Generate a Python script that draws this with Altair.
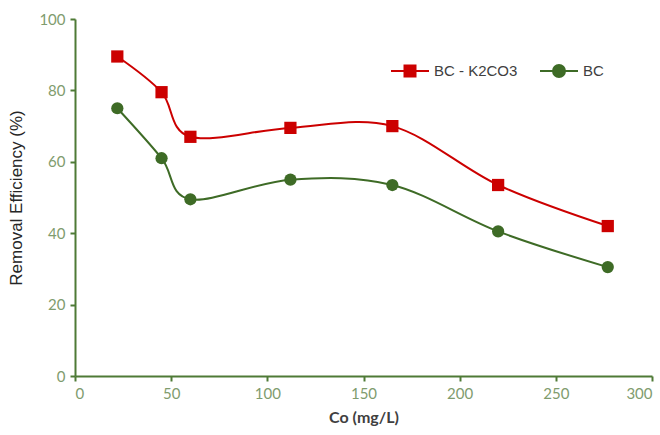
import altair as alt
import pandas as pd

# Initial cobalt concentration (mg/L) and removal efficiency (%) for each sorbent
co = [22, 45, 60, 112, 165, 220, 277]
bc_k2co3 = [89.5, 79.5, 67.0, 69.5, 70.0, 53.5, 42.0]
bc = [75.0, 61.0, 49.5, 55.0, 53.5, 40.5, 30.5]

series_names = ["BC - K2CO3", "BC"]
series_colors = ["#CC0000", "#3E6B26"]
# legend glyphs: short line with the marker outline in the middle, and the filled marker
line_glyphs = [
    "M-1.9,0H-0.55M0.55,0H1.9M-0.55,-0.55H0.55V0.55H-0.55Z",
    "M-1.9,0H-0.6M0.6,0H1.9M-0.6,0A0.6,0.6 0 1,0 0.6,0A0.6,0.6 0 1,0 -0.6,0Z",
]
marker_glyphs = [
    "M-0.55,-0.55H0.55V0.55H-0.55Z",
    "M-0.6,0A0.6,0.6 0 1,0 0.6,0A0.6,0.6 0 1,0 -0.6,0Z",
]
legend_x = [324, 473]

df = pd.concat([
    pd.DataFrame({"co": co, "eff": bc_k2co3, "series": series_names[0]}),
    pd.DataFrame({"co": co, "eff": bc, "series": series_names[1]}),
])

axis_green = "#4E7A36"
label_green = "#7F9C6E"

x_enc = alt.X(
    "co:Q",
    scale=alt.Scale(domain=[0, 300], nice=False),
    axis=alt.Axis(values=list(range(0, 301, 50)), title="Co (mg/L)", grid=False),
)
y_enc = alt.Y(
    "eff:Q",
    scale=alt.Scale(domain=[0, 100], nice=False),
    axis=alt.Axis(values=list(range(0, 101, 20)), title="Removal Efficiency (%)", grid=False,
                  titleFont="Liberation Sans", titleFontWeight="normal", titleFontSize=17,
                  titleColor="#262626"),
)
color_scale = alt.Scale(domain=series_names, range=series_colors)

lines = alt.Chart(df).mark_line(interpolate="cardinal", strokeWidth=2).encode(
    x=x_enc, y=y_enc,
    color=alt.Color("series:N", scale=color_scale, legend=None),
    detail="series:N",
)

squares = alt.Chart(df).transform_filter(
    alt.datum.series == series_names[0]
).mark_point(filled=True, opacity=1, size=150, shape="square").encode(
    x=x_enc, y=y_enc,
    color=alt.Color("series:N", scale=color_scale, legend=None),
)

circles = alt.Chart(df).transform_filter(
    alt.datum.series == series_names[1]
).mark_point(filled=True, opacity=1, size=150, shape="circle").encode(
    x=x_enc, y=y_enc,
    color=alt.Color("series:N", scale=color_scale, legend=None),
)


def legend_line(i):
    # invisible copy of one series carrying the stroked part of its legend entry
    leg = alt.Legend(title=None, orient="none", legendX=legend_x[i], legendY=41,
                     symbolSize=400, symbolOpacity=1, symbolStrokeWidth=2,
                     symbolStrokeColor=series_colors[i],
                     labelExpr="''", labelFontSize=15, labelOffset=13)
    return alt.Chart(df).transform_filter(
        alt.datum.series == series_names[i]
    ).mark_point(filled=False, opacity=0).encode(
        x=x_enc, y=y_enc,
        shape=alt.Shape("series:N",
                        scale=alt.Scale(domain=[series_names[i]], range=[line_glyphs[i]]),
                        legend=leg),
    )


def legend_marker(i):
    # invisible copy of one series carrying the filled marker and label of its legend entry
    leg = alt.Legend(title=None, orient="none", legendX=legend_x[i], legendY=41,
                     symbolSize=400, symbolOpacity=1,
                     symbolFillColor=series_colors[i],
                     labelFont="Liberation Sans", labelFontSize=15,
                     labelColor="#404040", labelOffset=13)
    return alt.Chart(df).transform_filter(
        alt.datum.series == series_names[i]
    ).mark_point(filled=True, opacity=0, fill=series_colors[i]).encode(
        x=x_enc, y=y_enc,
        shape=alt.Shape("series:N",
                        scale=alt.Scale(domain=[series_names[i]], range=[marker_glyphs[i]]),
                        legend=leg),
    )


chart = (
    alt.layer(lines, squares, circles,
              legend_line(0), legend_marker(0), legend_line(1), legend_marker(1))
    .resolve_scale(shape="independent")
    .properties(
        width=577, height=357,
        padding={"left": 75, "top": 19, "right": 8, "bottom": 59},
        autosize=alt.AutoSizeParams(type="none"),
        background="white",
    )
    .configure_view(stroke=None)
    .configure_axis(
        domainColor=axis_green, domainWidth=2,
        tickColor=axis_green, tickWidth=2, tickSize=5,
        labelColor=label_green, labelFont="Lato", labelFontSize=15,
        titleColor="#404040", titleFont="Lato", titleFontSize=16, titleFontWeight="bold",
    )
    .configure_axisX(labelPadding=5, titlePadding=8)
    .configure_axisY(labelPadding=5, titlePadding=13)
)

chart.save("out.html", embed_options={"renderer": "svg", "actions": False})
